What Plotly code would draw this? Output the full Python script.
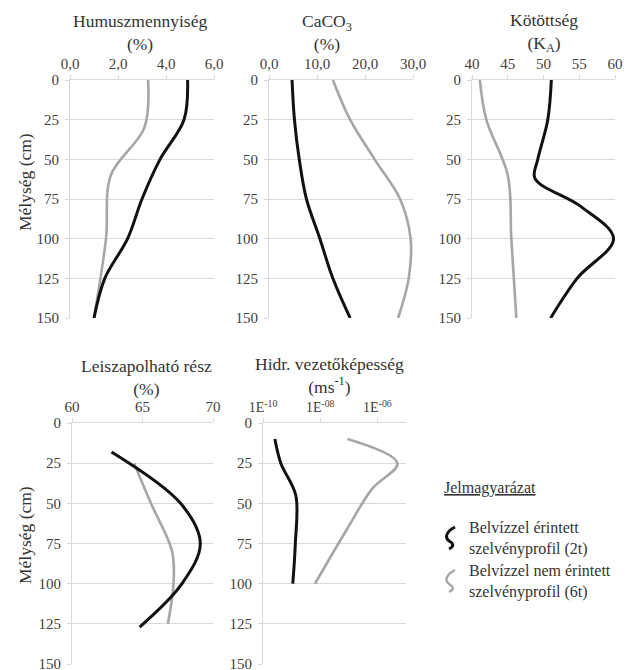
import plotly.graph_objects as go

# ---------------- data ----------------
humus_black_depth = [0, 25, 50, 75, 100, 125, 150]
humus_black = [4.9, 4.75, 3.75, 3.0, 2.4, 1.45, 1.0]
humus_gray_depth = [0, 30, 60, 100, 150]
humus_gray = [3.25, 3.1, 1.7, 1.5, 1.0]

caco3_black_depth = [0, 25, 50, 75, 100, 125, 150]
caco3_black = [4.8, 5.3, 6.3, 7.8, 10.6, 13.3, 16.9]
caco3_gray_depth = [0, 25, 50, 75, 100, 125, 150]
caco3_gray = [13.3, 16.9, 22.0, 27.3, 29.5, 29.1, 26.9]

kot_black_depth = [0, 25, 50, 62, 80, 100, 125, 150]
kot_black = [51.1, 50.6, 49.2, 48.8, 55.3, 59.8, 54.7, 51.0]
kot_gray_depth = [0, 25, 60, 100, 150]
kot_gray = [41.1, 42.0, 45.0, 45.5, 46.2]

leisz_black_depth = [18, 50, 75, 100, 127]
leisz_black = [62.8, 67.7, 69.1, 67.8, 64.8]
leisz_gray_depth = [25, 50, 80, 100, 125]
leisz_gray = [64.4, 65.6, 67.1, 67.2, 66.8]

hidr_black_depth = [10, 25, 45, 75, 100]
hidr_black = [2.6e-10, 4.2e-10, 1.4e-9, 1.35e-9, 1.1e-9]
hidr_gray_depth = [10, 25, 41, 66, 100]
hidr_gray = [9e-8, 5e-6, 6.5e-7, 8.7e-8, 6.6e-9]

depth_ticks = [0, 25, 50, 75, 100, 125, 150]
humus_ticks = [0, 2, 4, 6]
humus_ticklabels = ["0,0", "2,0", "4,0", "6,0"]
caco3_ticks = [0, 10, 20, 30]
caco3_ticklabels = ["0,0", "10,0", "20,0", "30,0"]
kot_ticks = [40, 45, 50, 55, 60]
leisz_ticks = [60, 65, 70]
hidr_ticks = [1e-10, 1e-8, 1e-6]
hidr_ticklabels = ["1E<sup>-10</sup>", "1E<sup>-08</sup>", "1E<sup>-06</sup>"]

titles = ["Humuszmennyiség<br>(%)", "CaCO<sub>3</sub><br>(%)", "Kötöttség<br>(K<sub>A</sub>)",
          "Leiszapolható rész<br>(%)", "Hidr. vezetőképesség<br>(ms<sup>-1</sup>)"]
y_title = "Mélység (cm)"
legend_title = "Jelmagyarázat"
legend_labels = ["Belvízzel érintett<br>szelvényprofil (2t)",
                 "Belvízzel nem érintett<br>szelvényprofil (6t)"]

# ---------------- style ----------------
OFF = 8  # page body margin
W, H = 635 - OFF, 670 - OFF
FONT = "Liberation Serif"
BLACK = "#111111"
GRAY = "#a6a6a6"
GRID = "#d9d9d9"
TXT = "#333333"
TICK = "#404040"


def px(x):
    return (x - OFF) / W


def py(y):
    return 1 - (y - OFF) / H


boxes = [
    (70, 214, 80, 318),
    (269, 413, 80, 318),
    (472, 615, 80, 318),
    (72, 213, 423, 664),
    (263, 406, 423, 664),
]

fig = go.Figure()

series = [
    (humus_black_depth, humus_black, humus_gray_depth, humus_gray),
    (caco3_black_depth, caco3_black, caco3_gray_depth, caco3_gray),
    (kot_black_depth, kot_black, kot_gray_depth, kot_gray),
    (leisz_black_depth, leisz_black, leisz_gray_depth, leisz_gray),
    (hidr_black_depth, hidr_black, hidr_gray_depth, hidr_gray),
]

for i, (bd, bv, gd, gv) in enumerate(series):
    xa = "x" if i == 0 else f"x{i+1}"
    ya = "y" if i == 0 else f"y{i+1}"
    fig.add_trace(go.Scatter(x=gv, y=gd, mode="lines", xaxis=xa, yaxis=ya,
                             line=dict(color=GRAY, width=2.6, shape="spline", smoothing=1.0),
                             showlegend=False, hoverinfo="skip", cliponaxis=False))
    fig.add_trace(go.Scatter(x=bv, y=bd, mode="lines", xaxis=xa, yaxis=ya,
                             line=dict(color=BLACK, width=3, shape="spline", smoothing=1.0),
                             showlegend=False, hoverinfo="skip", cliponaxis=False))

xranges = [
    dict(range=[0, 6], tickvals=humus_ticks, ticktext=humus_ticklabels),
    dict(range=[0, 30], tickvals=caco3_ticks, ticktext=caco3_ticklabels),
    dict(range=[40, 60], tickvals=kot_ticks, ticktext=[str(v) for v in kot_ticks]),
    dict(range=[60, 70], tickvals=leisz_ticks, ticktext=[str(v) for v in leisz_ticks]),
    dict(type="log", range=[-10, -5], tickvals=hidr_ticks, ticktext=hidr_ticklabels,
         tickfont=dict(family=FONT, size=14, color=TICK)),
]

layout = dict(
    width=W, height=H,
    margin=dict(l=0, r=0, t=0, b=0, autoexpand=False),
    paper_bgcolor="white", plot_bgcolor="white",
    font=dict(family=FONT, color=TXT),
    showlegend=False,
)

for i, (x0, x1, yt, yb) in enumerate(boxes):
    xk = "xaxis" if i == 0 else f"xaxis{i+1}"
    yk = "yaxis" if i == 0 else f"yaxis{i+1}"
    yref = "y" if i == 0 else f"y{i+1}"
    xref = "x" if i == 0 else f"x{i+1}"
    xa = dict(domain=[px(x0), px(x1)], anchor=yref, side="top", automargin=False,
              showgrid=False, zeroline=False, showline=True, linecolor=GRID, linewidth=1,
              ticks="outside", ticklen=4, tickcolor=GRID, ticklabelstandoff=0,
              ticklabeloverflow="allow",
              tickfont=dict(family=FONT, size=15, color=TICK), fixedrange=True)
    xa.update(xranges[i])
    ya = dict(domain=[py(yb), py(yt)], anchor=xref, range=[150, 0], automargin=False,
              tickvals=depth_ticks, showgrid=True, gridcolor=GRID, gridwidth=1,
              zeroline=False, showline=True, linecolor=GRID, linewidth=1,
              ticks="outside", ticklen=4, tickcolor=GRID, ticklabelstandoff=3,
              ticklabeloverflow="allow",
              tickfont=dict(family=FONT, size=15, color=TICK), fixedrange=True)
    layout[xk] = xa
    layout[yk] = ya

fig.update_layout(**layout)

title_pos = [(140, 32), (327, 32), (544, 32), (146, 377), (329, 375)]
for t, (cx, cy) in zip(titles, title_pos):
    fig.add_annotation(text=t, x=px(cx), y=py(cy), xref="paper", yref="paper",
                       xanchor="center", yanchor="middle", showarrow=False,
                       font=dict(family=FONT, size=17.5, color=TXT))

for cy in (182, 535):
    fig.add_annotation(text=y_title, x=px(25), y=py(cy), xref="paper", yref="paper",
                       xanchor="center", yanchor="middle", textangle=-90, showarrow=False,
                       font=dict(family=FONT, size=17.5, color=TXT))

fig.add_annotation(text=f"<u>{legend_title}</u>", x=px(442), y=py(488), xref="paper", yref="paper",
                   xanchor="left", yanchor="middle", showarrow=False,
                   font=dict(family=FONT, size=16, color=TXT))
for lab, cy in zip(legend_labels, (538, 581)):
    fig.add_annotation(text=lab, x=px(467), y=py(cy), xref="paper", yref="paper",
                       xanchor="left", yanchor="middle", align="left", showarrow=False,
                       font=dict(family=FONT, size=16, color=TXT))


def sym_path(ox, oy):
    pts = [(455, 527), (447, 531), (444, 537), (449, 541), (453, 543), (455, 546), (449, 549)]
    pts = [(x - 455 + ox, y - 527 + oy) for x, y in pts]
    p = [(px(x), py(y)) for x, y in pts]
    return (f"M {p[0][0]},{p[0][1]} C {p[1][0]},{p[1][1]} {p[2][0]},{p[2][1]} {p[3][0]},{p[3][1]} "
            f"C {p[4][0]},{p[4][1]} {p[5][0]},{p[5][1]} {p[6][0]},{p[6][1]}")


for col, oy, w in ((BLACK, 527, 3), (GRAY, 570, 2.4)):
    fig.add_shape(type="path", path=sym_path(455, oy), xref="paper", yref="paper",
                  line=dict(color=col, width=w))

fig.write_html("out.html")
